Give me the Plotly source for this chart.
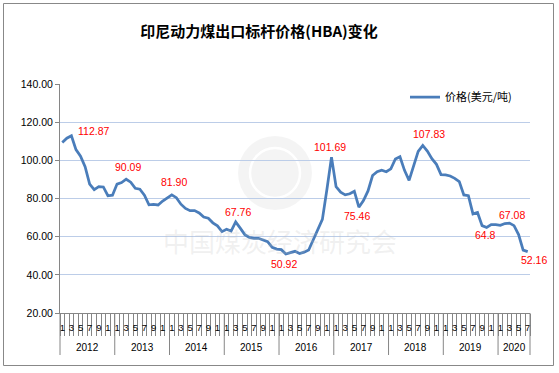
import plotly.graph_objects as go

# ---------------- data ----------------
years = [2012, 2013, 2014, 2015, 2016, 2017, 2018, 2019, 2020]
prices_2012 = [109.29, 111.58, 112.87, 105.61, 102.12, 96.65, 87.56, 84.65, 86.21, 86.04, 81.44, 81.75]
prices_2013 = [87.55, 88.35, 90.09, 88.56, 85.33, 84.87, 81.69, 76.70, 76.89, 76.61, 78.69, 80.31]
prices_2014 = [81.90, 80.44, 77.01, 74.81, 73.60, 73.64, 72.45, 70.29, 69.69, 67.26, 65.70, 62.65]
prices_2015 = [63.84, 62.92, 67.76, 64.48, 61.08, 59.59, 59.16, 59.14, 58.21, 57.39, 54.43, 53.51]
prices_2016 = [53.20, 50.92, 51.62, 52.32, 51.20, 51.87, 53.00, 58.37, 63.93, 69.07, 84.89, 101.69]
prices_2017 = [86.23, 83.32, 81.90, 82.51, 83.81, 75.46, 78.95, 83.97, 92.03, 93.99, 94.80, 94.04]
prices_2018 = [95.54, 100.69, 101.86, 94.75, 89.53, 96.61, 104.65, 107.83, 104.81, 100.89, 97.90, 92.51]
prices_2019 = [92.41, 91.80, 90.57, 88.85, 81.86, 81.48, 71.92, 72.67, 65.79, 64.80, 66.27, 66.30]
prices_2020 = [65.93, 66.89, 67.08, 65.77, 61.11, 52.98, 52.16]
yearly_prices = [prices_2012, prices_2013, prices_2014, prices_2015, prices_2016,
                 prices_2017, prices_2018, prices_2019, prices_2020]

# labelled points: (year, month, label text)
label_points = [(2012, 3, "112.87"), (2013, 3, "90.09"), (2014, 1, "81.90"),
                (2015, 3, "67.76"), (2016, 2, "50.92"), (2016, 12, "101.69"),
                (2017, 6, "75.46"), (2018, 8, "107.83"), (2019, 10, "64.8"),
                (2020, 3, "67.08"), (2020, 7, "52.16")]
y_ticks = [20, 40, 60, 80, 100, 120, 140]
series_name = "价格(美元/吨)"
title_text = "印尼动力煤出口标杆价格(HBA)变化"
watermark = "中国煤炭经济研究会"

# ---------------- styling ----------------
label_offsets = {  # (xshift, yshift) in px
    "112.87": (22, 5), "90.09": (2, 12), "81.90": (2, 12.5), "67.76": (2, 9.5),
    "50.92": (-2, -10), "101.69": (-1.5, 10.5), "75.46": (-1.5, -9),
    "107.83": (6, 11.5), "64.8": (-1, -7), "67.08": (2.5, 8), "52.16": (6, -8.5),
}
LINE_BLUE = "#4a7dba"
GRAY = "#868686"
NUM_FONT = "Liberation Sans"
CJK_FONT = "Noto Sans CJK SC"

# ---------------- build ----------------
xs, ys, months, year_of = [], [], [], []
idx_lookup = {}
i = 0
for yr, plist in zip(years, yearly_prices):
    for m, p in enumerate(plist, start=1):
        xs.append(i)
        ys.append(p)
        months.append(m)
        year_of.append(yr)
        idx_lookup[(yr, m)] = i
        i += 1
n = len(xs)

tickvals = [x for x, m in zip(xs, months) if m % 2 == 1]
ticktext = [str(months[t])[-1] for t in tickvals]
boundaries = [x - 0.5 for x in xs] + [xs[-1] + 0.5]

fig = go.Figure()
fig.add_trace(go.Scatter(
    x=xs, y=ys, mode="lines", name=series_name,
    line=dict(color=LINE_BLUE, width=2.75),
    showlegend=True, hoverinfo="skip",
))

W, H = 559, 373
ML, MR, MT, MB = 60, 29, 84, 60
PW, PH = W - ML - MR, H - MT - MB


def px_x(p):
    return (p - ML) / PW


def px_y(p):
    return (H - MB - p) / PH


annotations = []
for yr, m, txt in label_points:
    k = idx_lookup[(yr, m)]
    dx, dy = label_offsets[txt]
    annotations.append(dict(
        x=xs[k], y=ys[k], xref="x", yref="y", text=txt, showarrow=False,
        xanchor="center", yanchor="middle", xshift=dx, yshift=dy,
        font=dict(family=NUM_FONT, size=10.5, color="#ff0000"),
    ))

# year labels
x_lo, x_hi = -0.5, n - 0.5
for yr in years:
    ks = [k for k, y_ in zip(xs, year_of) if y_ == yr]
    center = (ks[0] + ks[-1]) / 2
    annotations.append(dict(
        x=center, y=px_y(347), xref="x", yref="paper", text=str(yr),
        showarrow=False, xanchor="center", yanchor="middle",
        font=dict(family=NUM_FONT, size=10, color="#000000"),
    ))

# watermark text
annotations.append(dict(
    x=px_x(280), y=px_y(240), xref="paper", yref="paper", text=watermark,
    showarrow=False, xanchor="center", yanchor="middle",
    font=dict(family=CJK_FONT, size=26, color="rgba(190,190,190,0.22)"),
))

shapes = []
# watermark logo (below grid)
shapes.append(dict(type="circle", xref="paper", yref="paper",
                   x0=px_x(238), x1=px_x(312), y0=px_y(210), y1=px_y(136),
                   line=dict(width=0), fillcolor="rgba(0,0,0,0.045)", layer="below"))
shapes.append(dict(type="circle", xref="paper", yref="paper",
                   x0=px_x(250), x1=px_x(300), y0=px_y(198), y1=px_y(148),
                   line=dict(color="white", width=2.5), fillcolor="rgba(0,0,0,0)",
                   layer="below"))
# year dividers
year_starts = [idx_lookup[(yr, 1)] - 0.5 for yr in years] + [x_hi]
for b in year_starts:
    xp = (b - x_lo) / (x_hi - x_lo)
    shapes.append(dict(type="line", xref="paper", yref="paper",
                       x0=xp, x1=xp, y0=0, y1=px_y(355),
                       line=dict(color=GRAY, width=1)))
# outer chart border
shapes.append(dict(type="rect", xref="paper", yref="paper",
                   x0=px_x(3.5), x1=px_x(553.5), y0=px_y(365.5), y1=px_y(3.5),
                   line=dict(color="#888888", width=1), fillcolor="rgba(0,0,0,0)",
                   layer="above"))

fig.update_layout(
    width=W, height=H, autosize=False,
    margin=dict(l=ML, r=MR, t=MT, b=MB, pad=0),
    paper_bgcolor="white", plot_bgcolor="white",
    title=dict(text="<b>" + title_text + "</b>", x=259 / W, xanchor="center",
               y=1 - 32 / H, yanchor="middle",
               font=dict(family=CJK_FONT, size=15, color="#000000")),
    legend=dict(x=px_x(405), y=px_y(97), xanchor="left", yanchor="middle",
                bgcolor="rgba(0,0,0,0)", font=dict(family=CJK_FONT, size=11, color="#000000"),
                itemwidth=30),
    xaxis=dict(range=[x_lo, x_hi], showline=True, linecolor=GRAY, linewidth=1,
               tickmode="array", tickvals=tickvals, ticktext=ticktext,
               ticks="outside", ticklen=6, tickcolor="rgba(0,0,0,0)",
               tickfont=dict(family=NUM_FONT, size=9.5, color="#000000"),
               showgrid=False, zeroline=False, fixedrange=True,
               minor=dict(tickmode="array", tickvals=boundaries, ticks="outside",
                          ticklen=22, tickwidth=1, tickcolor=GRAY, showgrid=False)),
    yaxis=dict(range=[20, 140], tickmode="array", tickvals=y_ticks, tickformat=".2f",
               showline=True, linecolor=GRAY, linewidth=1,
               ticks="outside", ticklen=4, tickcolor=GRAY,
               gridcolor="#bccde8", gridwidth=1, zeroline=False, fixedrange=True,
               tickfont=dict(family=NUM_FONT, size=10.5, color="#000000")),
    annotations=annotations, shapes=shapes,
)

fig.write_html("out.html", config={"displayModeBar": False, "staticPlot": True},
               post_script="document.body.style.margin='0px';document.body.style.overflow='hidden';")
